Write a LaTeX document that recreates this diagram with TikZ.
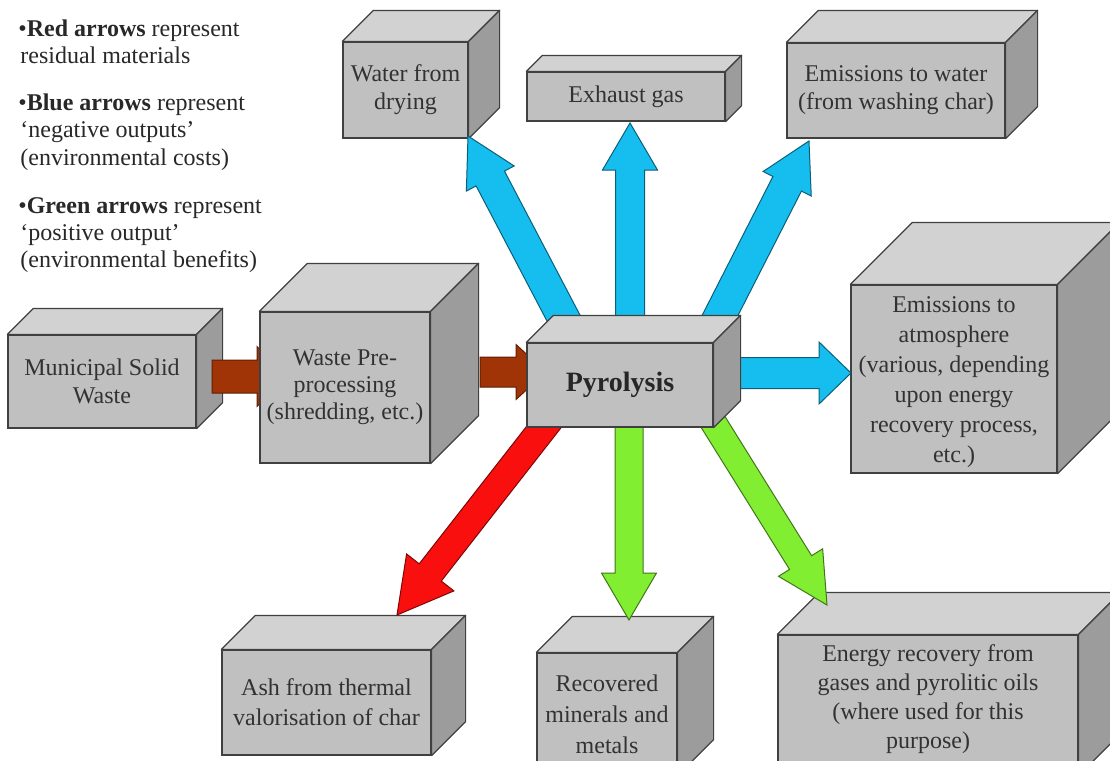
\documentclass[tikz,border=0pt]{standalone}
\usepackage{fontspec}
\setmainfont{Liberation Serif}
\usetikzlibrary{calc}
\definecolor{frontgray}{RGB}{192,192,192}
\definecolor{topgray}{RGB}{210,210,210}
\definecolor{sidegray}{RGB}{156,156,156}
\definecolor{edge}{RGB}{64,64,64}
\definecolor{txtgray}{RGB}{50,50,50}
\definecolor{legtxt}{RGB}{40,40,40}
\definecolor{arrblue}{RGB}{22,190,240}
\definecolor{arrgreen}{RGB}{130,238,50}
\definecolor{arrred}{RGB}{250,15,15}
\definecolor{arrbrown}{RGB}{160,52,6}
\tikzset{
  face/.style={draw=edge, fill=frontgray, line width=0.6pt, inner sep=0pt},
  topface/.style={draw=edge, fill=topgray, line width=0.6pt, line join=round},
  sideface/.style={draw=edge, fill=sidegray, line width=0.6pt, line join=round},
  boxtext/.style={align=center, text=txtgray, font=\fontsize{12}{14}\selectfont, inner sep=0pt},
  legend/.style={anchor=base west, inner sep=0pt, text=legtxt, font=\fontsize{12}{14}\selectfont},
  bluearrow/.style={fill=arrblue, draw=arrblue!50!black, line width=0.5pt},
  greenarrow/.style={fill=arrgreen, draw=arrgreen!50!black, line width=0.5pt},
  redarrow/.style={fill=arrred, draw=arrred!50!black, line width=0.5pt},
  brownarrow/.style={fill=arrbrown, draw=arrbrown!60!black, line width=0.5pt},
}
% #1 name, #2 centre, #3 width px, #4 height px, #5 depth px, #6 text options, #7 text
\newcommand\cube[7]{%
  \node[face, minimum width=#3*0.5pt, minimum height=#4*0.5pt] (#1) at (#2) {};
  \draw[topface] (#1.north west) -- ++(#5,-#5) -- ($(#1.north east)+(#5,-#5)$) -- (#1.north east) -- cycle;
  \draw[sideface] (#1.north east) -- ++(#5,-#5) -- ($(#1.south east)+(#5,-#5)$) -- (#1.south east) -- cycle;
  \node[boxtext, #6] (#1-t) at (#1.center) {#7};
}
% #1 style, #2 from, #3 to, #4 shaft half width, #5 head half width, #6 head length
\newcommand\barrow[6]{%
  \path (#2) coordinate (ba-s);
  \path (#3) coordinate (ba-e);
  \path ($(ba-e)!#6!(ba-s)$) coordinate (ba-h);
  \draw[#1] ($(ba-s)!#4!90:(ba-e)$) -- ($(ba-h)!#4!90:(ba-e)$) -- ($(ba-h)!#5!90:(ba-e)$)
    -- (ba-e) -- ($(ba-h)!#5!-90:(ba-e)$) -- ($(ba-h)!#4!-90:(ba-e)$) -- ($(ba-s)!#4!-90:(ba-e)$) -- cycle;
}
\begin{document}
\begin{tikzpicture}[x=0.5pt,y=-0.5pt]
\useasboundingbox (0,0) rectangle (1110,761);
\fill[white] (0,0) rectangle (1110,761);
\clip (0,0) rectangle (1110,761);

% legend
\node[legend] (l1) at (18,36) {\textbullet\textbf{Red arrows} represent};
\node[legend] (l2) at (20,63) {residual materials};
\node[legend] (l3) at (18,110) {\textbullet\textbf{Blue arrows} represent};
\node[legend] (l4) at (20,137) {‘negative outputs’};
\node[legend] (l5) at (20,165) {(environmental costs)};
\node[legend] (l6) at (18,213) {\textbullet\textbf{Green arrows} represent};
\node[legend] (l7) at (20,240) {‘positive output’};
\node[legend] (l8) at (20,267) {(environmental benefits)};

% output boxes (drawn below the arrows)
\cube{water}{405.5,90}{125}{96}{31}{}{Water from\\drying}
\cube{exh}{626,96.5}{198}{49}{16}{}{Exhaust gas}
\cube{emw}{896,90.5}{218}{95}{32}{}{Emissions to water\\(from washing char)}
\cube{atm}{954,379}{206}{188}{62}{yshift=-1.5pt, font=\fontsize{12}{15}\selectfont}{Emissions to\\atmosphere\\(various, depending\\upon energy\\recovery process,\\etc.)}
\cube{ash}{326.5,702.5}{209}{105}{34}{font=\fontsize{12}{15}\selectfont}{Ash from thermal\\valorisation of char}
\cube{rec}{607,714}{140}{122}{36}{font=\fontsize{12}{15.5}\selectfont}{Recovered\\minerals and\\metals}
\cube{ene}{928,705}{300}{140}{42}{yshift=3pt, font=\fontsize{12}{14.5}\selectfont}{Energy recovery from\\gases and pyrolitic oils\\(where used for this\\purpose)}

% arrow end points
\coordinate (b1s) at (575,340);  \coordinate (b1e) at (468,136);
\coordinate (b2s) at (630,360);  \coordinate (b2e) at (630,123);
\coordinate (b3s) at (708,339);  \coordinate (b3e) at (809,141);
\coordinate (b4s) at (725,373);  \coordinate (b4e) at (851,373);
\coordinate (r1s) at (554,414);  \coordinate (r1e) at (397,615);
\coordinate (g1s) at (629,400);  \coordinate (g1e) at (629,620);
\coordinate (g2s) at (705,409);  \coordinate (g2e) at (827,605);
\coordinate (w1s) at (212,376.5); \coordinate (w1e) at (287,376.5);
\coordinate (w2s) at (480,372);  \coordinate (w2e) at (546,372);

\barrow{bluearrow}{b1s}{b1e}{8pt}{13.5pt}{24pt}
\barrow{bluearrow}{b2s}{b2e}{7.25pt}{13.75pt}{23.5pt}
\barrow{bluearrow}{b3s}{b3e}{8pt}{13.5pt}{24pt}
\barrow{bluearrow}{b4s}{b4e}{7.75pt}{15.5pt}{16pt}
\barrow{redarrow}{r1s}{r1e}{7pt}{15pt}{27pt}
\barrow{greenarrow}{g1s}{g1e}{7pt}{13.75pt}{23.5pt}
\barrow{greenarrow}{g2s}{g2e}{6.5pt}{13pt}{25pt}

% process chain
\cube{msw}{102,381.5}{188}{93}{26}{}{Municipal Solid\\Waste}
\barrow{brownarrow}{w1s}{w1e}{8.25pt}{15pt}{15pt}
\cube{pre}{345,387.5}{170}{151}{48}{font=\fontsize{12}{13.5}\selectfont}{Waste Pre-\\processing\\(shredding, etc.)}
\barrow{brownarrow}{w2s}{w2e}{7.5pt}{13.75pt}{15pt}
\cube{pyro}{620,385}{186}{84}{27}{font=\fontsize{14}{16}\selectfont\bfseries, text=black!85}{Pyrolysis}
\end{tikzpicture}
\end{document}
